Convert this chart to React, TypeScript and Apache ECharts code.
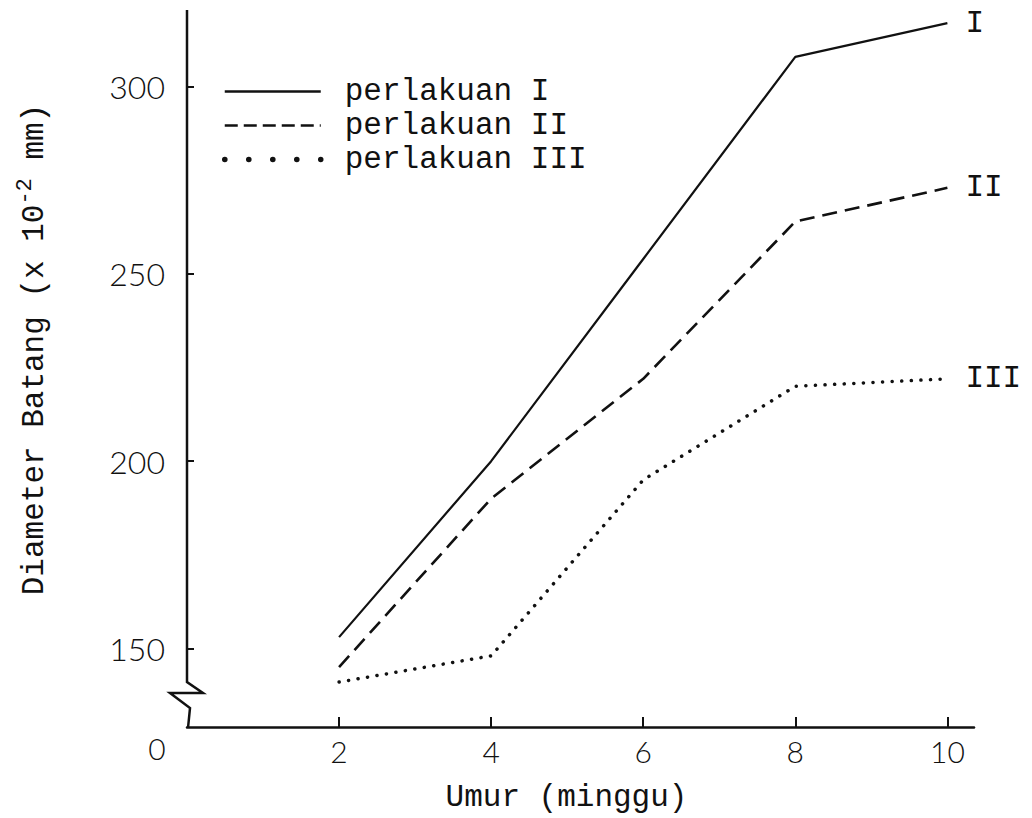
import React, { useEffect, useRef } from "react";
import * as echarts from "echarts";

const weeks = [2, 4, 6, 8, 10];
const perlakuanI = [153, 200, 254, 308, 317];
const perlakuanII = [145, 190, 222, 264, 273];
const perlakuanIII = [141, 148, 195, 220, 222];
const seriesNames = ["perlakuan I", "perlakuan II", "perlakuan III"];
const endNames = ["I", "II", "III"];
const yTicks = [150, 200, 250, 300];
const xTicks = [2, 4, 6, 8, 10];

const MONO = "Liberation Mono";
const NUM = "Lato";

export default function App() {
  const ref = useRef<HTMLDivElement>(null);
  useEffect(() => {
    if (!ref.current) return;
    const chart = echarts.init(ref.current, null, { renderer: "svg" });
    const pairs = (vals: number[]) => weeks.map((w, i) => [w, vals[i]]);
    const endLabel = (t: string) => ({
      show: true,
      formatter: t,
      distance: 18,
      fontFamily: MONO,
      fontSize: 31,
      color: "#111",
    });
    const yMin = 129;
    const yMax = 320.5;
    const hidden = { opacity: 0, color: "transparent", borderWidth: 0 };
    chart.setOption({
      animation: false,
      backgroundColor: "#fff",
      grid: { left: 187, right: 58, top: 10, bottom: 86 },
      legend: {
        left: 217,
        top: 71,
        orient: "vertical",
        itemWidth: 96,
        itemHeight: 14,
        itemGap: 3,
        itemStyle: hidden,
        textStyle: {
          fontFamily: MONO,
          fontSize: 31,
          color: "#111",
          padding: [0, 0, 0, 19],
          lineHeight: 31,
        },
        data: [
          { name: seriesNames[0], itemStyle: hidden, lineStyle: { type: "solid", width: 2.5 } },
          { name: seriesNames[1], itemStyle: hidden, lineStyle: { type: [13, 6], width: 2.5 } },
          {
            name: seriesNames[2],
            itemStyle: hidden,
            lineStyle: { type: [0.1, 23.9], width: 5.5, cap: "round" },
          },
        ],
      },
      xAxis: {
        type: "value",
        min: 0,
        max: 10.35,
        name: "Umur (minggu)",
        nameLocation: "middle",
        nameGap: 55,
        nameTextStyle: {
          fontFamily: MONO,
          fontSize: 31,
          color: "#111",
          padding: [0, 28, 0, 0],
        },
        axisLine: { show: true, lineStyle: { color: "#111", width: 2.5 } },
        axisTick: {
          show: true,
          inside: true,
          length: 10,
          customValues: xTicks,
          lineStyle: { color: "#111", width: 2 },
        },
        axisLabel: {
          customValues: xTicks,
          margin: 9,
          fontFamily: NUM,
          fontWeight: 300,
          fontSize: 30,
          color: "#111",
        },
        splitLine: { show: false },
      },
      yAxis: {
        type: "value",
        min: yMin,
        max: yMax,
        name: "Diameter Batang (x 10{sup|-2} mm)",
        nameLocation: "middle",
        nameGap: 133,
        nameTextStyle: {
          fontFamily: MONO,
          fontSize: 31,
          color: "#111",
          padding: [0, 0, 0, 38],
          rich: {
            sup: {
              fontFamily: MONO,
              fontSize: 22,
              color: "#111",
              verticalAlign: "top",
              padding: [0, 0, 18, 0],
            },
          },
        },
        axisLine: { show: false },
        axisTick: {
          show: true,
          inside: true,
          length: 7,
          customValues: yTicks,
          lineStyle: { color: "#111", width: 2 },
        },
        axisLabel: {
          customValues: yTicks,
          margin: 22,
          fontFamily: NUM,
          fontWeight: 300,
          fontSize: 32,
          color: "#111",
        },
        splitLine: { show: false },
      },
      series: [
        {
          name: seriesNames[0],
          type: "line",
          data: pairs(perlakuanI),
          symbol: "none",
          lineStyle: { color: "#111", width: 2.2, type: "solid" },
          itemStyle: { color: "#111" },
          endLabel: endLabel(endNames[0]),
        },
        {
          name: seriesNames[1],
          type: "line",
          data: pairs(perlakuanII),
          symbol: "none",
          lineStyle: { color: "#111", width: 2.6, type: [15, 8] },
          itemStyle: { color: "#111" },
          endLabel: endLabel(endNames[1]),
        },
        {
          name: seriesNames[2],
          type: "line",
          data: pairs(perlakuanIII),
          symbol: "none",
          lineStyle: { color: "#111", width: 3.5, type: [0.1, 9.5], cap: "round" },
          itemStyle: { color: "#111" },
          endLabel: endLabel(endNames[2]),
        },
      ],
    });

    const o = chart.convertToPixel({ gridIndex: 0 }, [0, yMin]) as number[];
    const t = chart.convertToPixel({ gridIndex: 0 }, [0, yMax]) as number[];
    const ox = o[0];
    const oy = o[1];
    chart.setOption({
      graphic: [
        {
          type: "polyline",
          z: 100,
          shape: {
            points: [
              [ox, t[1]],
              [ox, oy - 45],
              [ox + 16, oy - 34],
              [ox - 17, oy - 34],
              [ox + 3, oy - 19],
              [ox + 1, oy + 1],
            ],
          },
          style: { stroke: "#111", lineWidth: 2.5, fill: "none" },
        },
        {
          type: "text",
          z: 100,
          x: ox - 30,
          y: oy + 21,
          style: {
            text: "0",
            fontFamily: NUM,
            fontWeight: 300,
            fontSize: 30,
            fill: "#111",
            align: "center",
            verticalAlign: "middle",
          },
        },
      ],
    });

    return () => chart.dispose();
  }, []);
  return (
    <div
      ref={ref}
      style={{ position: "fixed", left: 0, top: 0, width: 1032, height: 818, background: "#fff" }}
    />
  );
}
